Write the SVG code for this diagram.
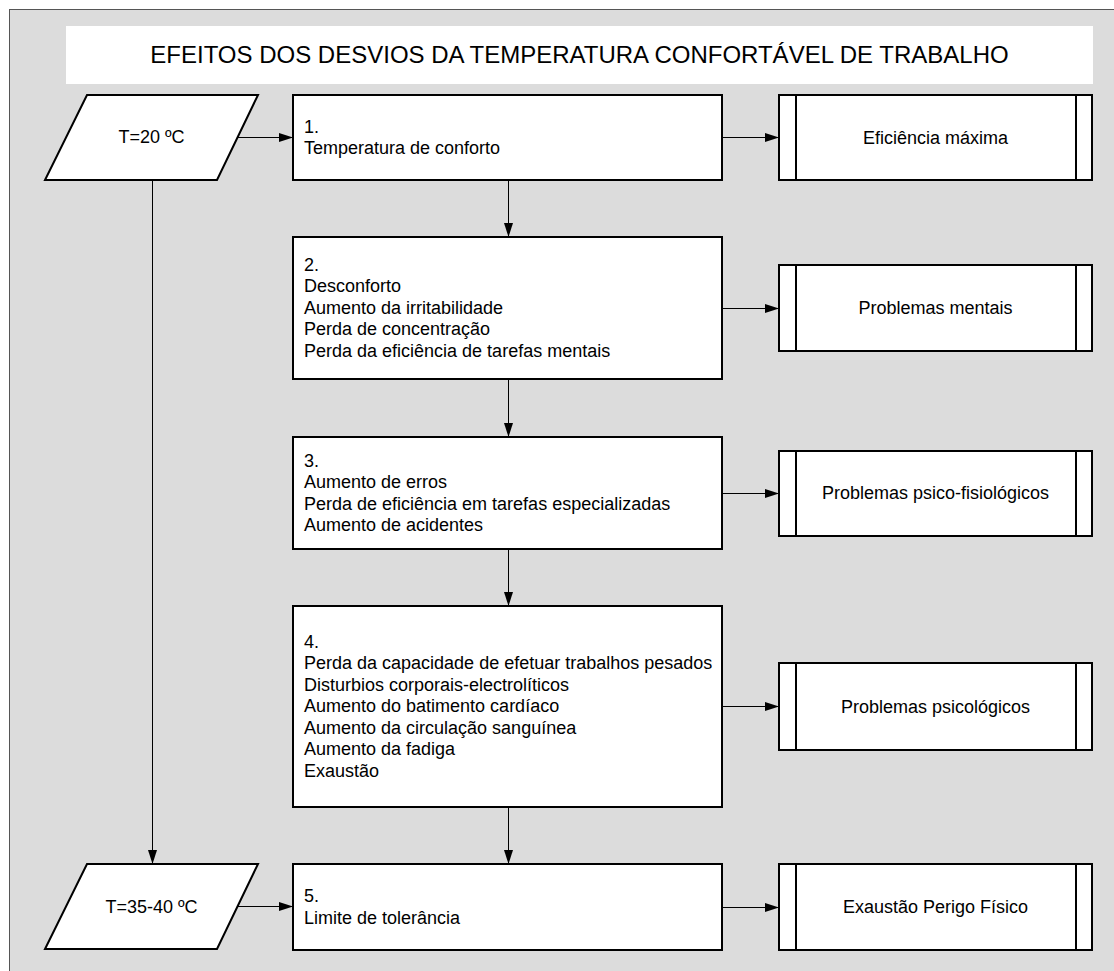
<svg xmlns="http://www.w3.org/2000/svg" width="1114" height="971" viewBox="0 0 1114 971">
<defs>
<marker id="ah" markerUnits="userSpaceOnUse" markerWidth="15" markerHeight="10" refX="14" refY="5" orient="auto">
<path d="M0,0.5 L14,5 L0,9.5 Z" fill="#000"/>
</marker>
<style>
.shape{fill:#fff;stroke:#000;stroke-width:2}
.sep{stroke:#000;stroke-width:2;fill:none}
.conn{stroke:#000;stroke-width:1;fill:none;marker-end:url(#ah)}
text{font-family:"Liberation Sans",Arial,sans-serif;font-size:18px;fill:#000}
.c{text-anchor:middle}
.title{font-size:24px}
</style>
</defs>
<rect x="9.5" y="9.5" width="1120" height="980" fill="#dcdcdc" stroke="#555" stroke-width="1"/>
<g id="title">
<rect x="66" y="26" width="1027" height="58" fill="#fff"/>
<text class="c title" x="579.5" y="63">EFEITOS DOS DESVIOS DA TEMPERATURA CONFORTÁVEL DE TRABALHO</text>
</g>
<g id="connectors">
<line class="conn" x1="238" y1="137.5" x2="293" y2="137.5"/>
<line class="conn" x1="722" y1="137.5" x2="779" y2="137.5"/>
<line class="conn" x1="508.5" y1="180" x2="508.5" y2="237"/>
<line class="conn" x1="722" y1="308.5" x2="779" y2="308.5"/>
<line class="conn" x1="508.5" y1="379" x2="508.5" y2="437"/>
<line class="conn" x1="722" y1="493.5" x2="779" y2="493.5"/>
<line class="conn" x1="508.5" y1="549" x2="508.5" y2="606"/>
<line class="conn" x1="722" y1="706.5" x2="779" y2="706.5"/>
<line class="conn" x1="508.5" y1="807" x2="508.5" y2="864"/>
<line class="conn" x1="238" y1="906.5" x2="293" y2="906.5"/>
<line class="conn" x1="722" y1="907.5" x2="779" y2="907.5"/>
<line class="conn" x1="152.5" y1="180" x2="152.5" y2="864"/>
</g>
<g id="input1">
<polygon class="shape" points="87,95 258,95 217,180 45,180"/>
<text class="c" x="151.5" y="143">T=20 ºC</text>
</g>
<g id="input2">
<polygon class="shape" points="87,864 258,864 217,949 45,949"/>
<text class="c" x="151.5" y="913">T=35-40 ºC</text>
</g>
<g id="step1">
<rect class="shape" x="293" y="95" width="429" height="85"/>
<text x="304" y="132.5">1.</text>
<text x="304" y="154">Temperatura de conforto</text>
</g>
<g id="step2">
<rect class="shape" x="293" y="237" width="429" height="142"/>
<text x="304" y="270.5">2.</text>
<text x="304" y="292">Desconforto</text>
<text x="304" y="313.5">Aumento da irritabilidade</text>
<text x="304" y="335">Perda de concentração</text>
<text x="304" y="356.5">Perda da eficiência de tarefas mentais</text>
</g>
<g id="step3">
<rect class="shape" x="293" y="437" width="429" height="112"/>
<text x="304" y="466.5">3.</text>
<text x="304" y="488">Aumento de erros</text>
<text x="304" y="509.5">Perda de eficiência em tarefas especializadas</text>
<text x="304" y="531">Aumento de acidentes</text>
</g>
<g id="step4">
<rect class="shape" x="293" y="606" width="429" height="201"/>
<text x="304" y="647.5">4.</text>
<text x="304" y="669">Perda da capacidade de efetuar trabalhos pesados</text>
<text x="304" y="690.5">Disturbios corporais-electrolíticos</text>
<text x="304" y="712">Aumento do batimento cardíaco</text>
<text x="304" y="733.5">Aumento da circulação sanguínea</text>
<text x="304" y="755">Aumento da fadiga</text>
<text x="304" y="776.5">Exaustão</text>
</g>
<g id="step5">
<rect class="shape" x="293" y="864" width="429" height="86"/>
<text x="304" y="902">5.</text>
<text x="304" y="923.5">Limite de tolerância</text>
</g>
<g id="result1">
<rect class="shape" x="779" y="95" width="313" height="85"/>
<path class="sep" d="M796,95 V180 M1076,95 V180"/>
<text class="c" x="935.5" y="143.5">Eficiência máxima</text>
</g>
<g id="result2">
<rect class="shape" x="779" y="265" width="313" height="86"/>
<path class="sep" d="M796,265 V351 M1076,265 V351"/>
<text class="c" x="935.5" y="314">Problemas mentais</text>
</g>
<g id="result3">
<rect class="shape" x="779" y="451" width="313" height="85"/>
<path class="sep" d="M796,451 V536 M1076,451 V536"/>
<text class="c" x="935.5" y="499">Problemas psico-fisiológicos</text>
</g>
<g id="result4">
<rect class="shape" x="779" y="663" width="313" height="87"/>
<path class="sep" d="M796,663 V750 M1076,663 V750"/>
<text class="c" x="935.5" y="712.5">Problemas psicológicos</text>
</g>
<g id="result5">
<rect class="shape" x="779" y="864" width="313" height="86"/>
<path class="sep" d="M796,864 V950 M1076,864 V950"/>
<text class="c" x="935.5" y="913">Exaustão Perigo Físico</text>
</g>
</svg>
